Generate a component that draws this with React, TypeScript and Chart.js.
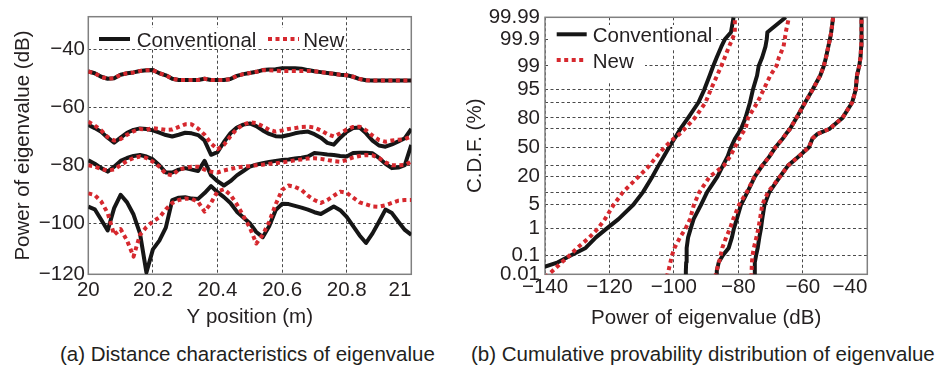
import { useEffect, useRef } from "react";
import { Chart, registerables } from "chart.js";

Chart.register(...registerables);

// ---------------- (a) distance characteristics ----------------
const positionM = [
  20.0, 20.02, 20.04, 20.06, 20.08, 20.1, 20.12, 20.14, 20.16, 20.18,
  20.2, 20.22, 20.24, 20.26, 20.28, 20.3, 20.32, 20.34, 20.36, 20.38,
  20.4, 20.42, 20.44, 20.46, 20.48, 20.5, 20.52, 20.54, 20.56, 20.58,
  20.6, 20.62, 20.64, 20.66, 20.68, 20.7, 20.72, 20.74, 20.76, 20.78,
  20.8, 20.82, 20.84, 20.86, 20.88, 20.9, 20.92, 20.94, 20.96, 20.98, 21.0,
];

const conventional1 = [
  -47.7, -48.3, -49.5, -50.2, -50.0, -48.8, -48.3, -48.0, -47.5, -47.3,
  -47.2, -48.3, -49.0, -50.2, -50.6, -50.6, -50.6, -50.6, -50.2, -50.6,
  -50.6, -50.6, -50.3, -49.2, -48.6, -48.2, -47.8, -47.2, -47.0, -46.9,
  -46.6, -46.6, -46.6, -46.7, -47.2, -47.6, -47.9, -48.2, -48.5, -48.8,
  -49.0, -49.5, -50.3, -50.7, -50.8, -50.8, -50.8, -50.8, -50.8, -50.8, -50.8,
];
const new1 = [
  -47.7, -48.3, -49.5, -50.2, -50.0, -48.8, -48.3, -48.0, -47.5, -47.3,
  -47.2, -48.3, -49.0, -50.2, -50.6, -50.6, -50.6, -50.6, -50.2, -50.6,
  -50.6, -50.6, -50.3, -49.2, -48.6, -48.2, -47.8, -47.2, -47.3, -47.4,
  -47.5, -47.5, -47.5, -47.5, -47.5, -47.6, -47.9, -48.2, -48.5, -48.8,
  -49.0, -49.5, -50.3, -50.7, -50.8, -50.8, -50.8, -50.8, -50.8, -50.8, -50.8,
];
const conventional2 = [
  -66.1, -67.2, -68.5, -70.5, -72.2, -70.5, -68.8, -67.8, -67.3, -67.5,
  -68.0, -68.8, -69.6, -70.1, -69.5, -68.8, -69.0, -69.6, -71.5, -76.4,
  -75.5, -72.0, -69.0, -67.0, -66.0, -65.6, -66.5, -68.0, -69.2, -70.0,
  -70.1, -69.6, -69.0, -68.6, -68.4, -69.3, -70.5, -72.3, -72.9, -70.5,
  -68.5, -67.2, -67.0, -69.0, -71.5, -73.2, -73.6, -72.8, -71.8, -70.7, -67.5,
];
const new2 = [
  -65.0, -66.3, -68.0, -70.3, -71.5, -71.0, -69.5, -68.3, -67.5, -67.8,
  -67.2, -67.5, -67.8, -67.7, -66.8, -65.9, -65.9, -67.4, -69.5, -72.5,
  -74.5, -73.0, -70.0, -67.5, -66.0, -65.2, -65.5, -66.5, -67.8, -68.4,
  -68.0, -67.5, -67.2, -66.8, -66.7, -67.0, -68.0, -69.3, -70.1, -69.0,
  -67.7, -66.8, -66.7, -68.0, -69.8, -71.3, -71.9, -71.5, -71.2, -71.0, -70.1,
];
const conventional3 = [
  -78.3, -79.5, -81.0, -82.2, -80.5, -78.5, -77.5, -76.8, -76.5, -77.0,
  -78.0, -80.0, -82.5, -82.5, -81.5, -81.0, -81.5, -82.0, -78.5, -83.5,
  -85.5, -87.0, -85.5, -83.5, -82.0, -80.5, -79.8, -79.3, -78.9, -78.5,
  -78.2, -78.0, -77.7, -77.4, -77.0, -75.8, -76.0, -76.3, -76.5, -76.8,
  -77.0, -75.8, -75.7, -75.7, -75.9, -77.5, -79.5, -81.0, -80.8, -80.0, -73.0,
];
const new3 = [
  -80.0, -80.5, -81.3, -81.8, -81.5, -80.0, -78.5, -77.5, -77.0, -77.5,
  -78.8, -80.5, -83.0, -83.5, -81.5, -81.0, -80.5, -80.5, -81.5, -82.2,
  -82.5, -81.8, -81.3, -80.8, -80.5, -80.3, -80.0, -79.8, -79.5, -79.3,
  -79.0, -78.7, -78.3, -78.0, -77.7, -77.6, -77.8, -78.2, -78.6, -78.8,
  -78.2, -77.3, -76.8, -76.5, -76.6, -77.5, -79.0, -80.0, -80.0, -79.9, -78.8,
];
const conventional4 = [
  -94.3, -95.2, -98.8, -102.5, -94.8, -90.2, -92.8, -97.0, -103.5, -117.0,
  -109.0, -106.0, -101.5, -92.0, -91.2, -91.0, -91.5, -91.6, -89.6, -87.2,
  -89.3, -91.0, -93.0, -96.0, -98.0, -100.0, -103.0, -104.8, -101.0, -95.5,
  -93.3, -93.4, -94.0, -94.6, -95.3, -96.2, -96.8, -95.5, -94.2, -95.5,
  -97.8, -101.0, -104.2, -106.8, -103.5, -99.5, -95.3, -96.5, -99.5, -102.3, -104.0,
];
const new4 = [
  -89.7, -90.3, -92.5, -96.5, -104.0, -102.0, -106.0, -111.5, -104.0, -101.3,
  -99.4, -98.0, -95.2, -93.0, -92.0, -91.5, -91.6, -92.6, -96.0, -93.0,
  -89.0, -88.3, -90.2, -93.5, -97.5, -101.5, -107.0, -104.0, -99.5, -93.5,
  -88.5, -87.0, -87.5, -88.5, -90.5, -92.0, -93.0, -92.0, -90.5, -89.1,
  -89.5, -91.2, -92.8, -93.5, -94.2, -94.3, -93.8, -93.0, -92.2, -92.0, -92.0,
];

const leftXTicks = [20, 20.2, 20.4, 20.6, 20.8, 21];
const leftYTicks = [-120, -100, -80, -60, -40];
const leftYMin = -117.6;
const leftYMax = -28.8;

// ---------------- (b) cumulative distribution ----------------
const cdfLevels = [
  0.01, 0.02, 0.05, 0.1, 0.2, 0.5, 1, 2, 5, 10, 20, 30, 40, 50,
  60, 65, 70, 80, 90, 95, 98, 99, 99.5, 99.8, 99.9, 99.95, 99.99,
];
const conventionalA = [
  -148.0, -144.0, -136.0, -131.9, -127.4, -124.2, -120.9, -117.2, -112.6, -109.6, -106.7, -104.8, -103.1, -101.5,
  -99.8, -98.9, -98.0, -95.6, -92.4, -90.6, -88.9, -87.8, -86.7, -85.3, -84.2, -82.3, -81.5,
];
const newA = [
  -140.0, -137.7, -134.8, -132.3, -130.0, -126.2, -123.6, -121.4, -118.7, -115.8, -111.0, -107.6, -105.3, -102.9,
  -100.0, -98.2, -96.7, -93.5, -90.2, -88.6, -86.6, -85.3, -84.2, -82.9, -81.9, -81.1, -81.1,
];
const conventionalB = [
  -96.3, -96.3, -96.2, -96.1, -96.0, -95.6, -94.8, -93.9, -91.6, -89.7, -86.5, -84.8, -83.3, -82.3,
  -81.0, -80.1, -79.2, -77.8, -76.4, -75.5, -74.2, -73.7, -72.6, -71.6, -71.2, -71.0, -65.3,
];
const newB = [
  -102.3, -101.7, -101.1, -100.6, -99.8, -98.1, -96.4, -95.0, -93.8, -92.1, -88.9, -84.5, -82.5, -81.1,
  -79.7, -78.9, -77.8, -77.0, -74.1, -72.2, -70.1, -68.2, -67.4, -66.0, -65.6, -65.3, -64.3,
];
const conventionalC = [
  -86.8, -86.7, -86.1, -84.8, -83.0, -82.0, -81.4, -80.5, -79.2, -77.2, -74.9, -72.6, -70.3, -68.5,
  -66.2, -65.2, -64.0, -62.0, -59.3, -57.0, -54.6, -53.5, -52.8, -52.1, -51.6, -51.2, -50.6,
];
const newC = [
  -87.2, -86.8, -86.0, -85.5, -85.0, -83.8, -82.6, -81.6, -79.8, -77.4, -75.0, -72.6, -70.3, -68.5,
  -66.2, -65.2, -64.0, -62.0, -59.3, -57.0, -54.6, -53.5, -52.8, -52.1, -51.6, -51.2, -50.6,
];
const conventionalD = [
  -74.9, -74.9, -74.9, -74.5, -74.0, -73.5, -73.0, -72.6, -71.9, -70.4, -67.1, -64.6, -61.2, -58.1,
  -57.0, -55.4, -51.8, -47.7, -44.7, -43.6, -43.2, -42.5, -42.1, -41.9, -41.8, -41.8, -41.8,
];
const newD = [
  -76.0, -75.9, -75.8, -75.6, -75.2, -74.4, -73.8, -73.3, -72.6, -70.8, -67.1, -64.6, -61.2, -58.1,
  -57.0, -55.4, -51.8, -47.7, -44.7, -43.6, -43.2, -42.5, -42.1, -41.9, -41.8, -41.8, -41.8,
];

const cdfLabelTicks = [0.01, 0.1, 1, 5, 20, 50, 80, 95, 99, 99.9, 99.99];
const cdfGridTicks = [10, 30, 70, 90];
const rightXTicks = [-140, -120, -100, -80, -60, -40];
const rightYMinZ = -3.633; // bottom edge of the probability axis (labelled 0.01)

// ---------------- styling ----------------
const FONT = '"Liberation Sans", Arial, Helvetica, sans-serif';
const FS = 20.5;
const TEXT = "#231f20";
const BLACK = "#161616";
const RED = "#d6282e";
const GRID = "#4a4a4a";
const FRAME = "#808080";

Chart.defaults.font.family = FONT;
Chart.defaults.font.size = FS;
Chart.defaults.color = TEXT;

// inverse standard normal CDF (Acklam) – the probability-paper axis transform
function probit(p: number): number {
  const a = [-39.69683028665376, 220.9460984245205, -275.9285104469687, 138.357751867269, -30.66479806614716, 2.506628277459239];
  const b = [-54.47609879822406, 161.5858368580409, -155.6989798598866, 66.80131188771972, -13.28068155288572];
  const c = [-0.007784894002430293, -0.3223964580411365, -2.400758277161838, -2.549732539343734, 4.374664141464968, 2.938163982698783];
  const d = [0.007784695709041462, 0.3224671290700398, 2.445134137142996, 3.754408661907416];
  const pl = 0.02425;
  if (p < pl) {
    const q = Math.sqrt(-2 * Math.log(p));
    return (((((c[0] * q + c[1]) * q + c[2]) * q + c[3]) * q + c[4]) * q + c[5]) / ((((d[0] * q + d[1]) * q + d[2]) * q + d[3]) * q + 1);
  }
  if (p <= 1 - pl) {
    const q = p - 0.5;
    const r = q * q;
    return ((((((a[0] * r + a[1]) * r + a[2]) * r + a[3]) * r + a[4]) * r + a[5]) * q) / (((((b[0] * r + b[1]) * r + b[2]) * r + b[3]) * r + b[4]) * r + 1);
  }
  const q = Math.sqrt(-2 * Math.log(1 - p));
  return -(((((c[0] * q + c[1]) * q + c[2]) * q + c[3]) * q + c[4]) * q + c[5]) / ((((d[0] * q + d[1]) * q + d[2]) * q + d[3]) * q + 1);
}

const fmt = (v: number) => (v < 0 ? "\u2212" + String(Math.abs(v)) : String(v));

function lineDataset(label: string, pts: { x: number; y: number }[], isNew: boolean) {
  return {
    label,
    data: pts,
    borderColor: isNew ? RED : BLACK,
    backgroundColor: isNew ? RED : BLACK,
    borderWidth: 4,
    borderDash: isNew ? [4, 3.5] : [],
    borderCapStyle: "butt",
    borderJoinStyle: "round",
    pointRadius: 0,
    pointHoverRadius: 0,
    tension: 0,
    fill: false,
    order: isNew ? 0 : 1,
  };
}

type LegendItem = { ds: number; x: number; y: number; tx: number; ty: number };

function overlayPlugin(cfg: { boxes: number[][]; items: LegendItem[]; lineLen: number; lastXLabel: string; xPad: number }) {
  return {
    id: "overlay",
    beforeDatasetsDraw(chart: any) {
      const { ctx, chartArea: a } = chart;
      ctx.save();
      ctx.strokeStyle = FRAME;
      ctx.lineWidth = 1.5;
      ctx.strokeRect(a.left, a.top, a.right - a.left, a.bottom - a.top);
      ctx.restore();
    },
    afterDatasetsDraw(chart: any) {
      const { ctx } = chart;
      ctx.save();
      ctx.fillStyle = "#ffffff";
      cfg.boxes.forEach((b) => ctx.fillRect(b[0], b[1], b[2], b[3]));
      cfg.items.forEach((it) => {
        const ds = chart.data.datasets[it.ds];
        ctx.strokeStyle = ds.borderColor;
        ctx.lineWidth = ds.borderWidth;
        ctx.lineCap = "butt";
        ctx.setLineDash(ds.borderDash || []);
        ctx.beginPath();
        ctx.moveTo(it.x, it.y);
        ctx.lineTo(it.x + cfg.lineLen, it.y);
        ctx.stroke();
        ctx.setLineDash([]);
        ctx.fillStyle = TEXT;
        ctx.font = `${FS}px ${FONT}`;
        ctx.textAlign = "left";
        ctx.textBaseline = "alphabetic";
        ctx.fillText(ds.label, it.tx, it.ty);
      });
      ctx.restore();
    },
    afterDraw(chart: any) {
      const { ctx, chartArea: a } = chart;
      const xs = chart.scales.x;
      ctx.save();
      ctx.fillStyle = TEXT;
      ctx.font = `${FS}px ${FONT}`;
      ctx.textAlign = "right";
      ctx.textBaseline = "middle";
      ctx.fillText(cfg.lastXLabel, a.right, xs.top + cfg.xPad + (FS * 1.2) / 2);
      ctx.restore();
    },
  };
}

function gridOpts() {
  return { color: GRID, lineWidth: 1, drawTicks: false };
}
function borderOpts() {
  return { display: false, dash: [3, 2.5] };
}

function leftConfig(): any {
  const pts = (vals: number[]) => positionM.map((x, i) => ({ x, y: vals[i] }));
  const W = 440;
  const H = 335;
  return {
    type: "line",
    data: {
      datasets: [
        lineDataset("Conventional", pts(conventional1), false),
        lineDataset("New", pts(new1), true),
        lineDataset("Conventional", pts(conventional2), false),
        lineDataset("New", pts(new2), true),
        lineDataset("Conventional", pts(conventional3), false),
        lineDataset("New", pts(new3), true),
        lineDataset("Conventional", pts(conventional4), false),
        lineDataset("New", pts(new4), true),
      ],
    },
    options: {
      responsive: false,
      animation: false,
      devicePixelRatio: 1,
      events: [],
      layout: { padding: { left: 0, top: 16.7, right: W - 411.3, bottom: 0 } },
      plugins: { legend: { display: false }, tooltip: { enabled: false } },
      scales: {
        x: {
          type: "linear",
          min: 20,
          max: 21,
          afterBuildTicks: (s: any) => {
            s.ticks = leftXTicks.map((v) => ({ value: v }));
          },
          afterFit: (s: any) => {
            s.height = H - 274.3;
          },
          ticks: {
            autoSkip: false,
            maxRotation: 0,
            padding: 4,
            color: TEXT,
            callback: (v: number, i: number, t: any[]) => (i === t.length - 1 ? "" : fmt(v)),
          },
          grid: gridOpts(),
          border: borderOpts(),
          title: { display: true, text: "Y position (m)", color: TEXT, padding: { top: 0, bottom: 5 } },
        },
        y: {
          type: "linear",
          min: leftYMin,
          max: leftYMax,
          afterBuildTicks: (s: any) => {
            s.ticks = leftYTicks.map((v) => ({ value: Math.max(v, leftYMin) }));
          },
          afterFit: (s: any) => {
            s.width = 88.3;
          },
          ticks: {
            autoSkip: false,
            padding: 3.3,
            color: TEXT,
            callback: (_v: number, i: number) => fmt(leftYTicks[i]),
          },
          grid: gridOpts(),
          border: borderOpts(),
          title: { display: true, text: "Power of eigenvalue (dB)", color: TEXT, padding: { top: 11, bottom: 0 } },
        },
      },
    },
    plugins: [
      overlayPlugin({
        boxes: [[93, 28, 252, 20]],
        items: [
          { ds: 0, x: 99, y: 39, tx: 136.7, ty: 46.5 },
          { ds: 1, x: 268, y: 39, tx: 303.3, ty: 46.5 },
        ],
        lineLen: 31,
        lastXLabel: fmt(leftXTicks[leftXTicks.length - 1]),
        xPad: 4,
      }),
    ],
  };
}

function rightConfig(): any {
  const pts = (vals: number[]) => cdfLevels.map((p, i) => ({ x: vals[i], y: probit(p / 100) }));
  const yTicks = [...cdfLabelTicks.map((p) => ({ p, label: String(p) })), ...cdfGridTicks.map((p) => ({ p, label: "" }))]
    .sort((a, b) => a.p - b.p);
  const W = 483;
  const H = 335;
  return {
    type: "line",
    data: {
      datasets: [
        lineDataset("Conventional", pts(conventionalA), false),
        lineDataset("New", pts(newA), true),
        lineDataset("Conventional", pts(conventionalB), false),
        lineDataset("New", pts(newB), true),
        lineDataset("Conventional", pts(conventionalC), false),
        lineDataset("New", pts(newC), true),
        lineDataset("Conventional", pts(conventionalD), false),
        lineDataset("New", pts(newD), true),
      ],
    },
    options: {
      responsive: false,
      animation: false,
      devicePixelRatio: 1,
      events: [],
      layout: { padding: { left: 0, top: 16.7, right: W - 407.3, bottom: 0 } },
      plugins: { legend: { display: false }, tooltip: { enabled: false } },
      scales: {
        x: {
          type: "linear",
          min: -140,
          max: -40,
          afterBuildTicks: (s: any) => {
            s.ticks = rightXTicks.map((v) => ({ value: v }));
          },
          afterFit: (s: any) => {
            s.height = H - 274.3;
          },
          ticks: {
            autoSkip: false,
            maxRotation: 0,
            padding: 0.5,
            color: TEXT,
            callback: (v: number, i: number, t: any[]) => (i === t.length - 1 ? "" : fmt(v)),
          },
          grid: gridOpts(),
          border: borderOpts(),
          title: { display: true, text: "Power of eigenvalue (dB)", color: TEXT, padding: { top: 0, bottom: 4.7 } },
        },
        y: {
          type: "linear",
          min: rightYMinZ,
          max: probit(0.9999),
          afterBuildTicks: (s: any) => {
            s.ticks = yTicks.map((t) => ({ value: Math.max(probit(t.p / 100), rightYMinZ) }));
          },
          afterFit: (s: any) => {
            s.width = 85;
          },
          ticks: {
            autoSkip: false,
            padding: 5,
            color: TEXT,
            callback: (_v: number, i: number) => yTicks[i].label,
          },
          grid: gridOpts(),
          border: borderOpts(),
          title: { display: true, text: "C.D.F. (%)", color: TEXT, padding: { top: 3, bottom: 0 } },
        },
      },
    },
    plugins: [
      overlayPlugin({
        boxes: [
          [88, 25, 168, 23],
          [88, 48, 97, 34],
        ],
        items: [
          { ds: 0, x: 96.7, y: 34.3, tx: 132.7, ty: 42.3 },
          { ds: 1, x: 96.7, y: 60, tx: 132.7, ty: 68.3 },
        ],
        lineLen: 30,
        lastXLabel: fmt(rightXTicks[rightXTicks.length - 1]),
        xPad: 0.5,
      }),
    ],
  };
}

const captionStyle: any = {
  position: "absolute",
  top: 342,
  fontFamily: FONT,
  fontSize: "20.5px",
  lineHeight: "24px",
  color: TEXT,
  whiteSpace: "nowrap",
};

export default function App() {
  const leftRef = useRef<HTMLCanvasElement>(null);
  const rightRef = useRef<HTMLCanvasElement>(null);

  useEffect(() => {
    const c1 = new Chart(leftRef.current as HTMLCanvasElement, leftConfig());
    const c2 = new Chart(rightRef.current as HTMLCanvasElement, rightConfig());
    return () => {
      c1.destroy();
      c2.destroy();
    };
  }, []);

  return (
    <div style={{ position: "fixed", left: 0, top: 0, width: 943, height: 369, background: "#ffffff", overflow: "hidden" }}>
      <canvas ref={leftRef} width={440} height={335} style={{ position: "absolute", left: 0, top: 0 }} />
      <canvas ref={rightRef} width={483} height={335} style={{ position: "absolute", left: 460, top: 0 }} />
      <div style={{ ...captionStyle, left: 60 }}>(a) Distance characteristics of eigenvalue</div>
      <div style={{ ...captionStyle, left: 471 }}>(b) Cumulative provability distribution of eigenvalue</div>
    </div>
  );
}
